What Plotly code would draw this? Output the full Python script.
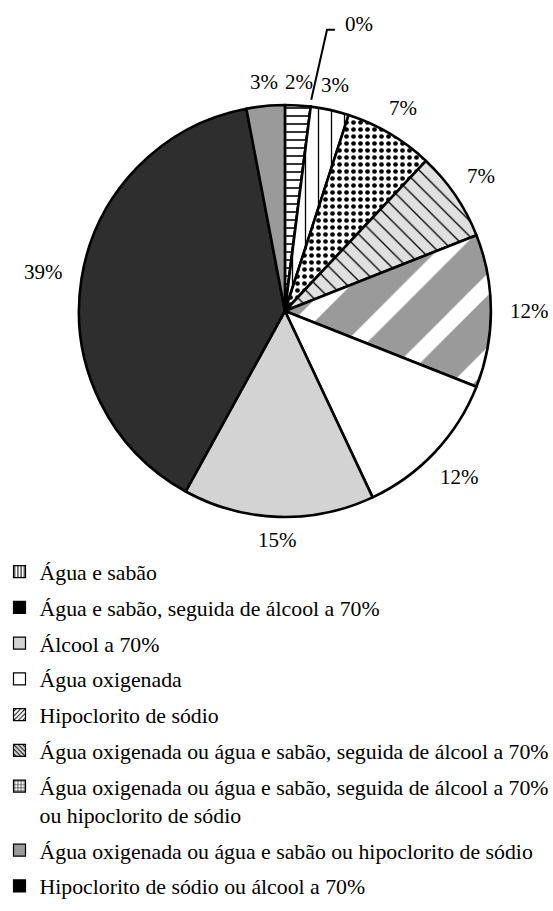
import math
import plotly.graph_objects as go

# ---------------- data ----------------
slice_values = [2, 0, 3, 7, 7, 12, 12, 15, 39, 3]
slice_colors = ["#ffffff", "#ffffff", "#ffffff", "#ffffff", "#e0e0e0",
                "#ffffff", "#ffffff", "#d3d3d3", "#2e2e2e", "#9a9a9a"]
slice_shapes = ["-", "", "|", ".", "\\", "/", "", "", "", ""]
slice_fg = ["#000000", "#000000", "#000000", "#000000", "#000000",
            "#9a9a9a", "#000000", "#000000", "#000000", "#000000"]
slice_psize = [8, 8, 13, 7, 11, 52, 8, 8, 8, 8]
slice_solid = [0.2, 0.2, 0.1, 0.36, 0.12, 0.7, 0.2, 0.2, 0.2, 0.2]

legend_labels = [
    "Água e sabão",
    "Água e sabão, seguida de álcool a 70%",
    "Álcool a 70%",
    "Água oxigenada",
    "Hipoclorito de sódio",
    "Água oxigenada ou água e sabão, seguida de álcool a 70%",
    "Água oxigenada ou água e sabão, seguida de álcool a 70%<br>ou hipoclorito de sódio",
    "Água oxigenada ou água e sabão ou hipoclorito de sódio",
    "Hipoclorito de sódio ou álcool a 70%",
]
legend_colors = ["#ffffff", "#000000", "#d3d3d3", "#ffffff", "#ffffff",
                 "#d3d3d3", "#ffffff", "#9a9a9a", "#000000"]
legend_shapes = ["|", "", "", "", "/", "\\", "+", "", ""]

# ---------------- geometry ----------------
W, H = 553, 911
CX, CY, R = 281, 311, 209
FONT = "Liberation Serif"

fig = go.Figure()

fig.add_trace(go.Pie(
    values=slice_values,
    labels=[f"s{i}" for i in range(len(slice_values))],
    sort=False, direction="clockwise", rotation=0,
    textinfo="none", hoverinfo="skip", showlegend=False,
    domain=dict(x=[(CX - R) / W, (CX + R) / W],
                y=[1 - (CY + R) / H, 1 - (CY - R) / H]),
    marker=dict(
        colors=slice_colors,
        line=dict(color="#000000", width=2.6),
        pattern=dict(shape=slice_shapes, fgcolor=slice_fg, size=slice_psize,
                     solidity=slice_solid, fillmode="overlay", fgopacity=1),
    ),
))

for lab, col, shp in zip(legend_labels, legend_colors, legend_shapes):
    fig.add_trace(go.Bar(
        x=[None], y=[None], name=lab, legendgroup=lab,
        marker=dict(color=col, line=dict(color="#000000", width=1.2),
                    pattern=dict(shape=shp, fgcolor="#000000", size=4,
                                 solidity=0.3, fillmode="overlay", fgopacity=1)),
    ))

# percentage labels computed from the slice values
total = sum(slice_values)
annotations = []
cum = 0.0
for i, v in enumerate(slice_values):
    start = cum / total * 360
    cum += v
    mid = (start + cum / total * 360) / 2
    th = math.radians(mid)
    txt = f"{v}%"
    if v == 0:
        # leader line for zero slice
        sx = CX + (R + 4) * math.sin(th)
        sy = CY - (R + 4) * math.cos(th)
        bx, by = sx + 16, sy - 70
        ex, ey = bx + 8, by
        fig.add_shape(type="path", xref="paper", yref="paper",
                      path=f"M{sx / W},{1 - sy / H} L{bx / W},{1 - by / H} L{ex / W},{1 - ey / H}",
                      line=dict(color="#000000", width=2))
        annotations.append(dict(x=(ex + 8) / W, y=1 - (ey - 6) / H, xref="paper", yref="paper",
                                text=txt, showarrow=False, xanchor="left", yanchor="middle",
                                font=dict(family=FONT, size=21, color="#000000")))
        continue
    half_w = (0.5 * (len(txt) - 1) + 0.833) * 21 / 2
    r = R + 20 + half_w * abs(math.sin(th))
    x = CX + r * math.sin(th)
    y = CY - r * math.cos(th)
    annotations.append(dict(x=x / W, y=1 - y / H, xref="paper", yref="paper",
                            text=txt, showarrow=False, xanchor="center", yanchor="middle",
                            font=dict(family=FONT, size=21, color="#000000")))

fig.update_layout(
    width=W, height=H,
    margin=dict(l=0, r=0, t=0, b=0),
    paper_bgcolor="#ffffff", plot_bgcolor="#ffffff",
    xaxis=dict(visible=False), yaxis=dict(visible=False),
    showlegend=True,
    legend=dict(x=-0.0156, xanchor="left", y=1 - 551 / H, yanchor="top",
                traceorder="grouped", tracegroupgap=4.4, valign="top",
                font=dict(family=FONT, size=21.8, color="#000000"),
                bgcolor="rgba(0,0,0,0)"),
    annotations=annotations,
    font=dict(family=FONT, color="#000000"),
)

fig.write_html("out.html",
               config={"displayModeBar": False},
               post_script="document.body.style.margin='0';document.body.style.overflow='hidden';")
